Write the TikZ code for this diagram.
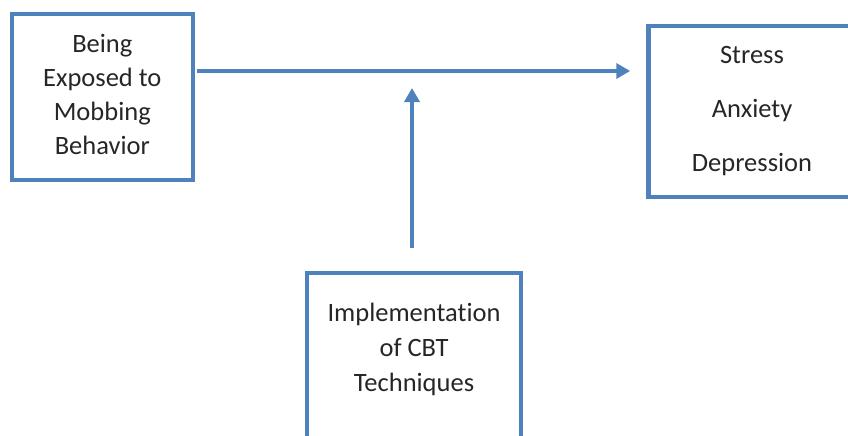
\documentclass[tikz,border=0pt]{standalone}
\usepackage{fontspec}
\setmainfont{Carlito}[Ligatures=NoCommon]
\usetikzlibrary{arrows.meta,positioning}
\definecolor{boxblue}{RGB}{79,129,189}
\tikzset{
  box/.style={draw=boxblue, line width=4.5pt, rectangle, align=center,
    font=\fontsize{26.5}{34}\selectfont, text=black!85},
  boxtext/.style={align=center, font=\fontsize{26.5}{35}\selectfont, text=black!85},
  link/.style={draw=boxblue, line width=4pt, -{Triangle[length=14pt,width=15pt]}}
}
\begin{document}
\begin{tikzpicture}[x=1pt,y=-1pt]
\clip (0,0) rectangle (848,436);
\node[box, minimum width=181pt, minimum height=166pt] (mob) at (102.3,96.8) {};
\node[boxtext, font=\fontsize{26.5}{34}\selectfont] (mobtxt) at (102.3,94) {Being\\Exposed to\\Mobbing\\Behavior};
\node[box, minimum width=207pt, minimum height=171pt, font=\fontsize{26.5}{54}\selectfont] (out) at (752,111.5) {Stress\\Anxiety\\Depression};
\node[box, minimum width=214pt, minimum height=200pt] (cbt) at (414,373) {};
\node[boxtext] (cbttxt) at (414,349) {Implementation\\of CBT\\Techniques};
\coordinate (hstart) at ([yshift=25.8pt]mob.east);
\coordinate (vtop) at (412,71);
\draw[link, shorten <=2pt, shorten >=16pt] (hstart) -- (hstart -| out.west);
\draw[link, shorten >=17pt] ([xshift=-2pt,yshift=23pt]cbt.north) -- (vtop);
\end{tikzpicture}
\end{document}
